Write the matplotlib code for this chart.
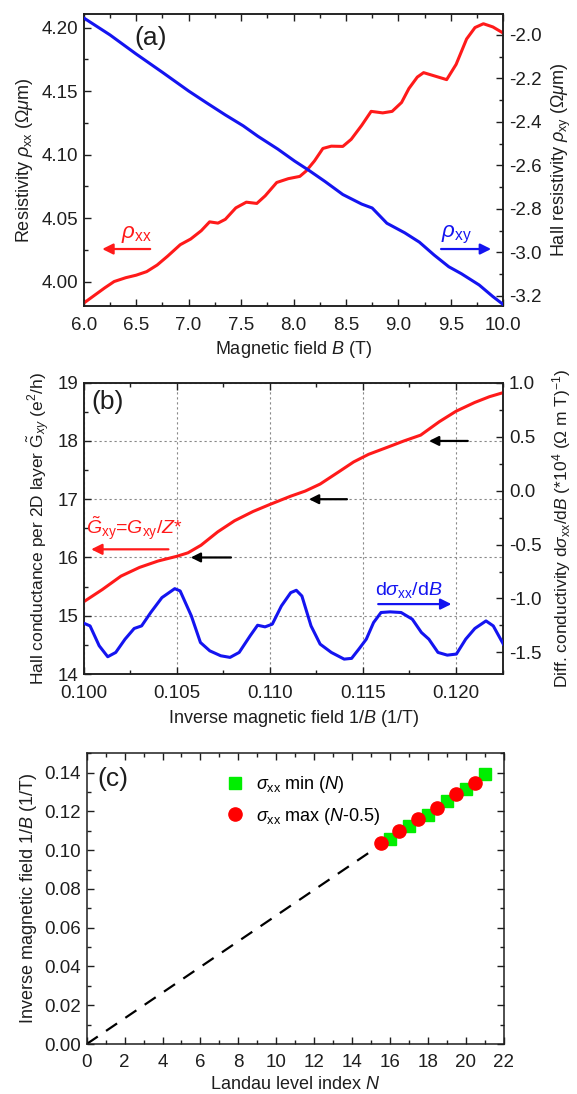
import numpy as np
import matplotlib
matplotlib.use("Agg")
import matplotlib.pyplot as plt
from matplotlib.ticker import MultipleLocator, FormatStrFormatter

plt.rcParams['font.family'] = ['Liberation Sans', 'DejaVu Sans']
plt.rcParams['mathtext.fontset'] = 'custom'
plt.rcParams['mathtext.rm'] = 'Liberation Sans'
plt.rcParams['mathtext.it'] = 'Liberation Sans:italic'
plt.rcParams['mathtext.bf'] = 'Liberation Sans:bold'
plt.rcParams['mathtext.sf'] = 'Liberation Sans'

# ---------------- data: panel (a) ----------------
B_xx = [6.00, 6.10, 6.20, 6.29, 6.40, 6.50, 6.60, 6.70, 6.80, 6.92, 7.02, 7.12, 7.20, 7.28,
        7.35, 7.45, 7.55, 7.65, 7.73, 7.84, 7.95, 8.06, 8.12, 8.20, 8.28, 8.36, 8.47, 8.55,
        8.65, 8.74, 8.85, 8.94, 9.03, 9.10, 9.18, 9.24, 9.34, 9.46, 9.55, 9.65, 9.73, 9.81,
        9.90, 10.0]
rho_xx = [3.983, 3.989, 3.995, 4.000, 4.003, 4.005, 4.0078, 4.013, 4.020, 4.029, 4.0335,
          4.040, 4.047, 4.046, 4.049, 4.058, 4.0625, 4.0615, 4.0675, 4.078, 4.081, 4.0828,
          4.087, 4.095, 4.1048, 4.1066, 4.1064, 4.112, 4.123, 4.134, 4.1328, 4.134, 4.141,
          4.152, 4.161, 4.1645, 4.162, 4.159, 4.171, 4.191, 4.200, 4.203, 4.2005, 4.1956]
B_xy = [6.00, 6.25, 6.50, 6.75, 7.00, 7.17, 7.35, 7.52, 7.66, 7.85, 8.01, 8.15, 8.30, 8.47,
        8.65, 8.75, 8.89, 9.06, 9.20, 9.34, 9.48, 9.60, 9.77, 9.90, 10.0]
rho_xy = [-1.922, -2.000, -2.088, -2.172, -2.258, -2.312, -2.368, -2.418, -2.466, -2.525,
          -2.580, -2.624, -2.674, -2.734, -2.778, -2.796, -2.866, -2.910, -2.953, -3.012,
          -3.066, -3.098, -3.150, -3.203, -3.240]

# ---------------- data: panel (b) ----------------
invB_G = [0.1000, 0.1010, 0.1020, 0.1030, 0.1040, 0.1050, 0.1056, 0.1063, 0.1072, 0.1081,
          0.1091, 0.1100, 0.1111, 0.1119, 0.1127, 0.1137, 0.1145, 0.1153, 0.1163, 0.1172,
          0.1181, 0.1191, 0.1200, 0.1210, 0.1218, 0.12254]
G_xy = [15.24, 15.45, 15.68, 15.83, 15.94, 16.02, 16.08, 16.21, 16.44, 16.63, 16.79, 16.91,
        17.05, 17.14, 17.26, 17.47, 17.64, 17.77, 17.89, 18.00, 18.10, 18.33, 18.51, 18.66,
        18.76, 18.83]
invB_D = [0.1000, 0.10034, 0.10083, 0.10129, 0.10172, 0.10222, 0.10271, 0.10311, 0.1036,
          0.1042, 0.10489, 0.10518, 0.10578, 0.10627, 0.10677, 0.10736, 0.10786, 0.10835,
          0.10894, 0.10934, 0.10974, 0.11013, 0.11062, 0.11112, 0.11142, 0.11172, 0.11221,
          0.1127, 0.1133, 0.11399, 0.11439, 0.11478, 0.11518, 0.11557, 0.11597, 0.11646,
          0.11705, 0.11765, 0.11814, 0.11854, 0.11903, 0.11953, 0.12002, 0.12052, 0.12101,
          0.12161, 0.1220, 0.12254]
dsig_dB = [-1.229, -1.254, -1.438, -1.540, -1.500, -1.377, -1.278, -1.254, -1.130, -0.992,
           -0.909, -0.930, -1.161, -1.408, -1.485, -1.531, -1.546, -1.500, -1.346, -1.248,
           -1.263, -1.238, -1.069, -0.946, -0.924, -0.977, -1.254, -1.423, -1.500, -1.562,
           -1.555, -1.469, -1.377, -1.223, -1.130, -1.124, -1.130, -1.192, -1.315, -1.377,
           -1.500, -1.525, -1.515, -1.377, -1.278, -1.208, -1.254, -1.423]

# ---------------- data: panel (c) ----------------
N_min = [16, 17, 18, 19, 20, 21]
invB_min = [0.1060, 0.1124, 0.1180, 0.1253, 0.1314, 0.1391]
N_max = [15.5, 16.5, 17.5, 18.5, 19.5, 20.5]
invB_max = [0.1038, 0.1098, 0.1160, 0.1220, 0.1292, 0.1345]
fit_slope = 0.00663
fit_N = [0.0, 21.1]

RED = '#ff1a1a'
BLUE = '#1414f0'
TXT = '#1e1e1e'
TFS = 13.5   # tick labels
LFS = 13.0   # axis labels

fig = plt.figure(figsize=(5.77, 10.94), dpi=100)


def style(ax, xpad=8):
    for s in ax.spines.values():
        s.set_linewidth(1.1)
        s.set_color(TXT)
    ax.tick_params(which='both', direction='in', colors=TXT, labelsize=TFS, width=1.0)
    ax.tick_params(which='major', length=5)
    ax.tick_params(which='minor', length=3)
    ax.tick_params(axis='x', which='both', pad=xpad)
    ax.tick_params(axis='y', which='both', pad=4)


# ================= panel (a) =================
axa = fig.add_axes([0.1451, 0.7206, 0.7272, 0.2664])
axa.plot(B_xx, rho_xx, color=RED, lw=2.2, zorder=3)
axa.set_xlim(6.0, 10.0)
axa.set_ylim(3.981, 4.2105)
axa.xaxis.set_major_locator(MultipleLocator(0.5))
axa.xaxis.set_minor_locator(MultipleLocator(0.25))
axa.yaxis.set_major_locator(MultipleLocator(0.05))
axa.yaxis.set_minor_locator(MultipleLocator(0.025))
axa.xaxis.set_major_formatter(FormatStrFormatter('%.1f'))
axa.yaxis.set_major_formatter(FormatStrFormatter('%.2f'))
style(axa, xpad=8)
axa.tick_params(which='both', top=True, right=False)
axa.set_xlabel(r'Magnetic field $B$ (T)', fontsize=LFS, color=TXT, labelpad=4)
axa.set_ylabel(r'Resistivity $\rho_{\rm xx}$ ($\Omega\mu$m)', fontsize=LFS, color=TXT, labelpad=5)

axa2 = axa.twinx()
axa2.plot(B_xy, rho_xy, color=BLUE, lw=2.2, zorder=3)
axa2.set_ylim(-3.245, -1.905)
axa2.yaxis.set_major_locator(MultipleLocator(0.2))
axa2.yaxis.set_minor_locator(MultipleLocator(0.1))
axa2.yaxis.set_major_formatter(FormatStrFormatter('%.1f'))
style(axa2)
axa2.set_ylabel(r'Hall resistivity $\rho_{\rm xy}$ ($\Omega\mu$m)', fontsize=LFS, color=TXT, labelpad=6)

axa.text(6.64, 4.1916, '(a)', fontsize=19, color=TXT, ha='center', va='center')
axa.annotate('', xy=(6.15, 4.0256), xytext=(6.66, 4.0256),
             arrowprops=dict(arrowstyle='-|>', color=RED, lw=1.6, mutation_scale=16))
axa.text(6.5, 4.037, r'$\rho_{\rm xx}$', color=RED, fontsize=16, ha='center', va='center')
axa.annotate('', xy=(9.91, 4.0256), xytext=(9.38, 4.0256),
             arrowprops=dict(arrowstyle='-|>', color=BLUE, lw=1.6, mutation_scale=16))
axa.text(9.55, 4.037, r'$\rho_{\rm xy}$', color=BLUE, fontsize=16, ha='center', va='center')

# ================= panel (b) =================
axb = fig.add_axes([0.1451, 0.3839, 0.7272, 0.2663])
axb.plot(invB_G, G_xy, color=RED, lw=2.2, zorder=3)
axb.set_xlim(0.100, 0.12254)
axb.set_ylim(14, 19)
axb.xaxis.set_major_locator(MultipleLocator(0.005))
axb.xaxis.set_minor_locator(MultipleLocator(0.0025))
axb.yaxis.set_major_locator(MultipleLocator(1))
axb.yaxis.set_minor_locator(MultipleLocator(0.5))
axb.xaxis.set_major_formatter(FormatStrFormatter('%.3f'))
style(axb, xpad=8)
axb.tick_params(which='both', top=True, right=False)
axb.grid(True, which='major', color='#888888', ls=(0, (2, 2.5)), lw=0.8)
axb.set_xlabel(r'Inverse magnetic field 1/$B$ (1/T)', fontsize=LFS, color=TXT, labelpad=4)
axb.set_ylabel(r'Hall conductance per 2D layer $\tilde{\rm G}_{xy}$ (e$^2$/h)',
               fontsize=12.5, color=TXT, labelpad=4)

axb2 = axb.twinx()
axb2.plot(invB_D, dsig_dB, color=BLUE, lw=2.2, zorder=3)
axb2.set_ylim(-1.70, 1.0)
axb2.yaxis.set_major_locator(MultipleLocator(0.5))
axb2.yaxis.set_minor_locator(MultipleLocator(0.25))
axb2.yaxis.set_major_formatter(FormatStrFormatter('%.1f'))
style(axb2)
axb2.set_ylabel(r'Diff. conductivity d$\sigma_{\rm xx}$/d$B$ (*10$^4$ ($\Omega$ m T)$^{-1}$)',
                fontsize=12.5, color=TXT, labelpad=6)

axb.text(0.1013, 18.67, '(b)', fontsize=19, color=TXT, ha='center', va='center')
for (x0, x1, yy) in [(0.10806, 0.10560, 16.0), (0.11429, 0.11195, 17.0), (0.12078, 0.11840, 18.0)]:
    axb.annotate('', xy=(x1, yy), xytext=(x0, yy),
                 arrowprops=dict(arrowstyle='-|>', color='black', lw=1.6, mutation_scale=14))
axb.text(0.1001, 16.50, r'$\tilde{G}_{\rm xy}$=$G_{\rm xy}$/$Z$*', color=RED, fontsize=14,
         ha='left', va='center')
axb.annotate('', xy=(0.10025, 16.14), xytext=(0.1047, 16.14),
             arrowprops=dict(arrowstyle='-|>', color=RED, lw=1.6, mutation_scale=16))
axb.text(0.11567, 15.45, r'd$\sigma_{\rm xx}$/d$B$', color=BLUE, fontsize=14,
         ha='left', va='center')
axb.annotate('', xy=(0.11990, 15.2), xytext=(0.11567, 15.2),
             arrowprops=dict(arrowstyle='-|>', color=BLUE, lw=1.6, mutation_scale=16))

# ================= panel (c) =================
axc = fig.add_axes([0.1503, 0.0457, 0.7227, 0.2657])
fN = np.array(fit_N)
axc.plot(fN, fit_slope * fN, color='black', lw=1.6, ls=(0, (6, 4.5)), zorder=2)
axc.plot(N_min, invB_min, ls='none', marker='s', ms=8.5, color='#00ee00', mec='#00ee00',
         zorder=3, label=r'$\sigma_{\rm xx}$ min ($N$)')
axc.plot(N_max, invB_max, ls='none', marker='o', ms=9.5, color='#ff0000', mec='#ff0000',
         zorder=4, label=r'$\sigma_{\rm xx}$ max ($N$-0.5)')
axc.set_xlim(0, 22)
axc.set_ylim(0, 0.15)
axc.xaxis.set_major_locator(MultipleLocator(2))
axc.xaxis.set_minor_locator(MultipleLocator(1))
axc.yaxis.set_major_locator(MultipleLocator(0.02))
axc.yaxis.set_minor_locator(MultipleLocator(0.01))
axc.yaxis.set_major_formatter(FormatStrFormatter('%.2f'))
style(axc, xpad=7)
axc.tick_params(which='both', top=True, right=True)
axc.set_xlabel(r'Landau level index $N$', fontsize=LFS, color=TXT, labelpad=4)
axc.set_ylabel(r'Inverse magnetic field 1/$B$ (1/T)', fontsize=LFS, color=TXT, labelpad=4)
axc.text(1.4, 0.1365, '(c)', fontsize=19, color=TXT, ha='center', va='center')
axc.legend(loc='upper left', bbox_to_anchor=(0.29, 0.985), frameon=False, fontsize=13,
           handletextpad=0.6, labelspacing=0.6, handlelength=1.2)

fig.savefig('out.png', dpi=100)
